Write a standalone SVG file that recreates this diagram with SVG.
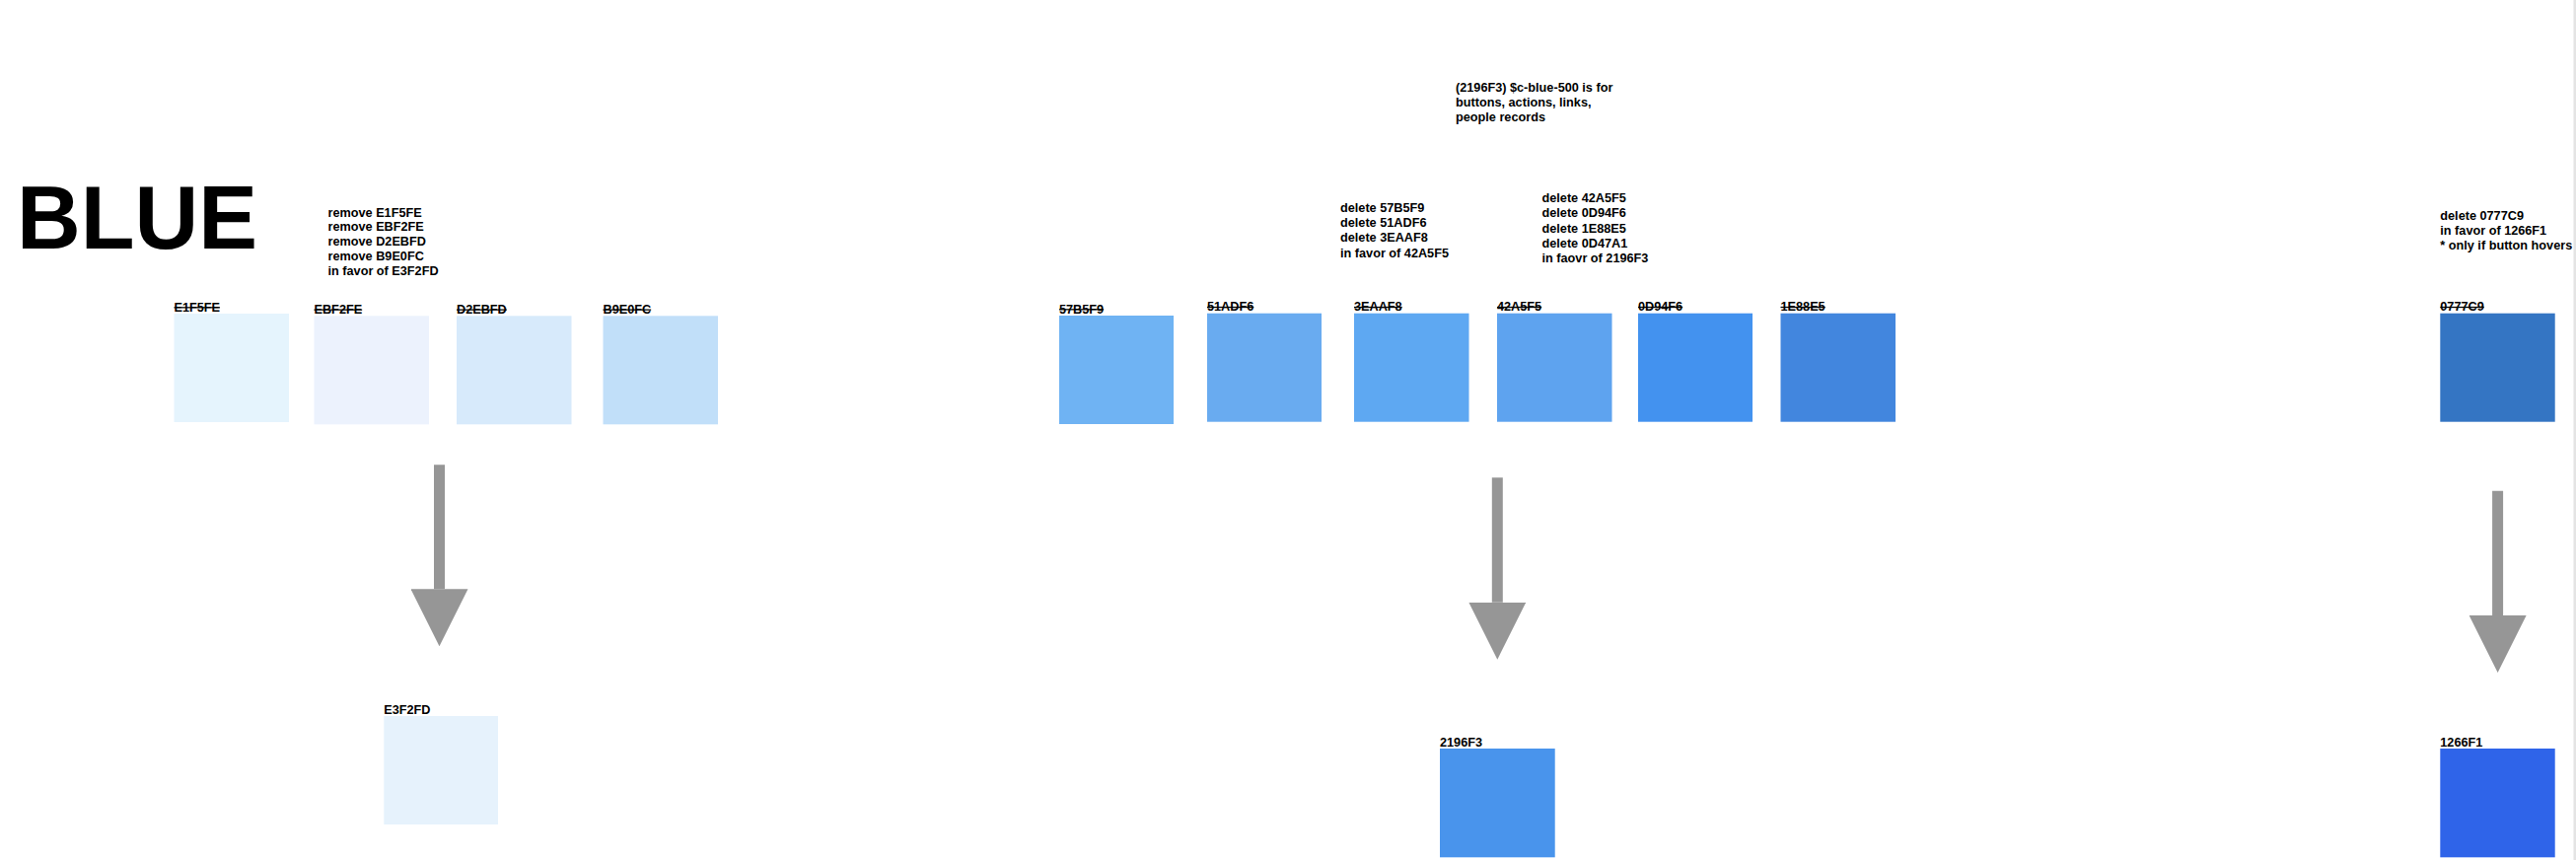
<svg xmlns="http://www.w3.org/2000/svg" width="2612" height="872" viewBox="0 0 2612 872">
<style>
  text { font-family: "Liberation Sans", Arial, Helvetica, sans-serif; font-weight: bold; fill: #000; }
  .note { font-size: 12.7px; }
  .lbl { font-size: 12.7px; }
  .old { text-decoration: line-through; }
  .title { font-size: 90px; }
  .shaft { stroke: #969696; stroke-width: 11; fill: none; marker-end: url(#ah); }
</style>
<defs>
  <marker id="ah" markerUnits="userSpaceOnUse" viewBox="0 0 58 58" markerWidth="58" markerHeight="58" refX="0" refY="29" orient="auto">
    <path d="M0,0 L58,29 L0,58 Z" fill="#969696"/>
  </marker>
</defs>
<rect x="0" y="0" width="2612" height="872" fill="#ffffff"/>
<rect x="2609.5" y="0" width="2.5" height="872" fill="#e4e4e4"/>

<g id="title"><text class="title" x="17" y="252" textLength="244" lengthAdjust="spacingAndGlyphs">BLUE</text></g>

<g id="note-remove">
  <text class="note" x="332.5" y="219.5">remove E1F5FE</text>
  <text class="note" x="332.5" y="234.3">remove EBF2FE</text>
  <text class="note" x="332.5" y="249.1">remove D2EBFD</text>
  <text class="note" x="332.5" y="263.9">remove B9E0FC</text>
  <text class="note" x="332.5" y="278.7">in favor of E3F2FD</text>
</g>

<g id="note-blue500">
  <text class="note" x="1476" y="92.5">(2196F3) $c-blue-500 is for</text>
  <text class="note" x="1476" y="107.8">buttons, actions, links,</text>
  <text class="note" x="1476" y="123.1">people records</text>
</g>

<g id="note-delete-1">
  <text class="note" x="1359" y="214.5">delete 57B5F9</text>
  <text class="note" x="1359" y="229.8">delete 51ADF6</text>
  <text class="note" x="1359" y="245.1">delete 3EAAF8</text>
  <text class="note" x="1359" y="260.7">in favor of 42A5F5</text>
</g>

<g id="note-delete-2">
  <text class="note" x="1563.5" y="205">delete 42A5F5</text>
  <text class="note" x="1563.5" y="220.3">delete 0D94F6</text>
  <text class="note" x="1563.5" y="235.6">delete 1E88E5</text>
  <text class="note" x="1563.5" y="250.9">delete 0D47A1</text>
  <text class="note" x="1563.5" y="266.2">in faovr of 2196F3</text>
</g>

<g id="note-delete-3">
  <text class="note" x="2474.3" y="223.3">delete 0777C9</text>
  <text class="note" x="2474.3" y="238.3">in favor of 1266F1</text>
  <text class="note" x="2474.3" y="253.3">* only if button hovers</text>
</g>

<g id="sw-E1F5FE"><text class="lbl old" x="176.5" y="315.5">E1F5FE</text><rect x="176.5" y="318" width="116.5" height="110" fill="#E5F4FD"/></g>
<g id="sw-EBF2FE"><text class="lbl old" x="318.5" y="317.8">EBF2FE</text><rect x="318.5" y="320.3" width="116.5" height="110" fill="#ECF2FD"/></g>
<g id="sw-D2EBFD"><text class="lbl old" x="463" y="317.8">D2EBFD</text><rect x="463" y="320.3" width="116.5" height="110" fill="#D7EAFB"/></g>
<g id="sw-B9E0FC"><text class="lbl old" x="611.5" y="317.8">B9E0FC</text><rect x="611.5" y="320.3" width="116.5" height="110" fill="#C1DFF9"/></g>

<g id="sw-57B5F9"><text class="lbl old" x="1074" y="317.5">57B5F9</text><rect x="1074" y="320" width="116" height="110" fill="#6FB3F3"/></g>
<g id="sw-51ADF6"><text class="lbl old" x="1224" y="315.2">51ADF6</text><rect x="1224" y="317.7" width="116" height="110" fill="#69ABF0"/></g>
<g id="sw-3EAAF8"><text class="lbl old" x="1373" y="315.2">3EAAF8</text><rect x="1373" y="317.7" width="116.5" height="110" fill="#5EA8F2"/></g>
<g id="sw-42A5F5"><text class="lbl old" x="1518" y="315.2">42A5F5</text><rect x="1518" y="317.7" width="116.5" height="110" fill="#5EA3EF"/></g>
<g id="sw-0D94F6"><text class="lbl old" x="1661" y="315.2">0D94F6</text><rect x="1661" y="317.7" width="116" height="110" fill="#4392EF"/></g>
<g id="sw-1E88E5"><text class="lbl old" x="1805.5" y="315.2">1E88E5</text><rect x="1805.5" y="317.7" width="116.5" height="110" fill="#4286DE"/></g>

<g id="sw-0777C9"><text class="lbl old" x="2474.3" y="315.2">0777C9</text><rect x="2474.3" y="317.7" width="116.4" height="110" fill="#3475C3"/></g>

<g id="sw-E3F2FD"><text class="lbl" x="389.3" y="723.5">E3F2FD</text><rect x="389.3" y="726" width="115.7" height="110" fill="#E6F2FC"/></g>
<g id="sw-2196F3"><text class="lbl" x="1460" y="756.5">2196F3</text><rect x="1460" y="759" width="116.7" height="110.3" fill="#4994EC"/></g>
<g id="sw-1266F1"><text class="lbl" x="2474.3" y="756.5">1266F1</text><rect x="2474.3" y="759" width="116.4" height="110.3" fill="#2F64E9"/></g>

<g id="connectors">
  <line class="shaft" x1="445.5" y1="471.3" x2="445.5" y2="597.3"/>
  <line class="shaft" x1="1518.3" y1="484.3" x2="1518.3" y2="610.7"/>
  <line class="shaft" x1="2532.6" y1="497.7" x2="2532.6" y2="624"/>
</g>
</svg>
